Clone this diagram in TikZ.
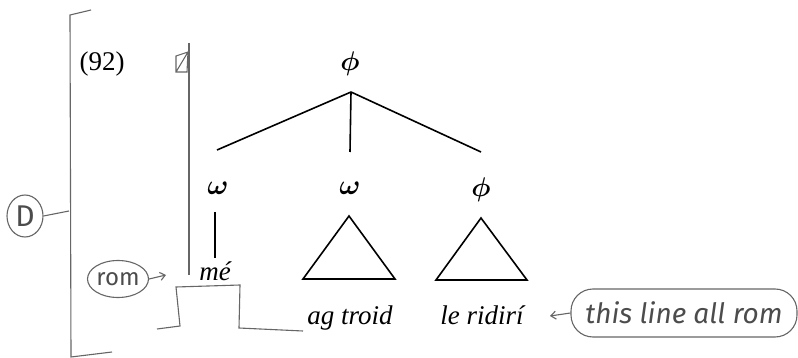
\documentclass[tikz,border=0pt]{standalone}
\usepackage{fontspec}
\usepackage{bm}
\usepackage{graphicx}
\setmainfont{Liberation Serif}
\newfontfamily\handfont{Fira Sans}
\usetikzlibrary{arrows.meta,shapes.geometric}
\newcommand{\phisym}{\scalebox{2.7}{$\bm\phi$}}
\newcommand{\omsym}{\scalebox{2.8}{$\bm\omega$}}
\begin{document}
\begin{tikzpicture}[x=1pt,y=-1pt,
  lab/.style={font=\fontsize{27}{32}\selectfont, inner sep=0pt, anchor=base},
  sym/.style={font=\normalsize, inner sep=0pt, anchor=base},
  tree/.style={line width=1.6pt, black},
  pencil/.style={draw=black!60, line width=1.1pt},
  hand/.style={font=\handfont\itshape\fontsize{28}{32}\selectfont, text=black!70},
  parr/.style={pencil, -{Straight Barb[length=5pt,width=8pt]}}]
\useasboundingbox[fill=white] (0,0) rectangle (798,358);

% example number and tree
\node[lab] (ex) at (102,71) {(92)};
\node[sym] (top) at (350,71) {\phisym};
\coordinate (apex) at (351,92);
\node[sym] (w1) at (218,195) {\omsym};
\node[sym] (w2) at (350,195) {\omsym};
\node[sym] (p3) at (481,197) {\phisym};
\coordinate (c1) at (217,150);
\coordinate (c2) at (350,152);
\coordinate (c3) at (481,152);
\draw[tree] (apex) -- (c1);
\draw[tree] (apex) -- (c2);
\draw[tree] (apex) -- (c3);

\coordinate (m1) at (215,212);
\coordinate (m2) at (215,258);
\draw[tree] (m1) -- (m2);
\node[lab] (me) at (215,280) {\itshape mé};

% triangles
\coordinate (t1a) at (349,216); \coordinate (t1b) at (303,279); \coordinate (t1c) at (395,279);
\draw[tree, line join=miter] (t1a) -- (t1b) -- (t1c) -- cycle;
\coordinate (t2a) at (481,218); \coordinate (t2b) at (436,280); \coordinate (t2c) at (527,280);
\draw[tree, line join=miter] (t2a) -- (t2b) -- (t2c) -- cycle;

\node[lab] (agt) at (350,324) {\itshape ag troid};
\node[lab] (ler) at (482,324) {\itshape le ridirí};

% pencil annotations
\coordinate (b1) at (91,10); \coordinate (b2) at (70,15);
\coordinate (b3) at (71,357); \coordinate (b4) at (112,352);
\draw[pencil] (b1) -- (b2) -- (b3) -- (b4);

\node[pencil, ellipse, minimum width=36pt, minimum height=42pt, inner sep=0pt,
      hand, font=\handfont\fontsize{30}{34}\selectfont] (D) at (25,216) {D};
\coordinate (Dend) at (69,211);
\draw[pencil] (D.east) -- (Dend);

\coordinate (v1) at (189,43); \coordinate (v2) at (189,275);
\draw[pencil] (v1) -- (v2);
\coordinate (q1) at (176,56); \coordinate (q2) at (188,52);
\coordinate (q3) at (187,72); \coordinate (q4) at (176,72);
\draw[pencil] (q1) -- (q2) -- (q3) -- (q4) -- cycle (q4) -- (q2);

\node[pencil, ellipse, minimum width=59pt, minimum height=37pt, inner sep=0pt, hand,
      font=\handfont\fontsize{24}{28}\selectfont] (rom) at (118,279) {rom};
\coordinate (romtip) at (166,275);
\draw[parr] (rom.east) -- (romtip);

\coordinate (s1) at (157,329); \coordinate (s2) at (180,326);
\coordinate (s3) at (176,287); \coordinate (s4) at (240,285);
\coordinate (s5) at (239,328); \coordinate (s6) at (303,331);
\draw[pencil] (s1) -- (s2) -- (s3) -- (s4) -- (s5) -- (s6);

\node[pencil, rectangle, rounded corners=22pt, minimum width=226pt, minimum height=48pt,
      inner sep=0pt, hand] (all) at (684,313) {this line all rom};
\coordinate (alltip) at (550,316);
\draw[parr] (all.west) -- (alltip);
\end{tikzpicture}
\end{document}
